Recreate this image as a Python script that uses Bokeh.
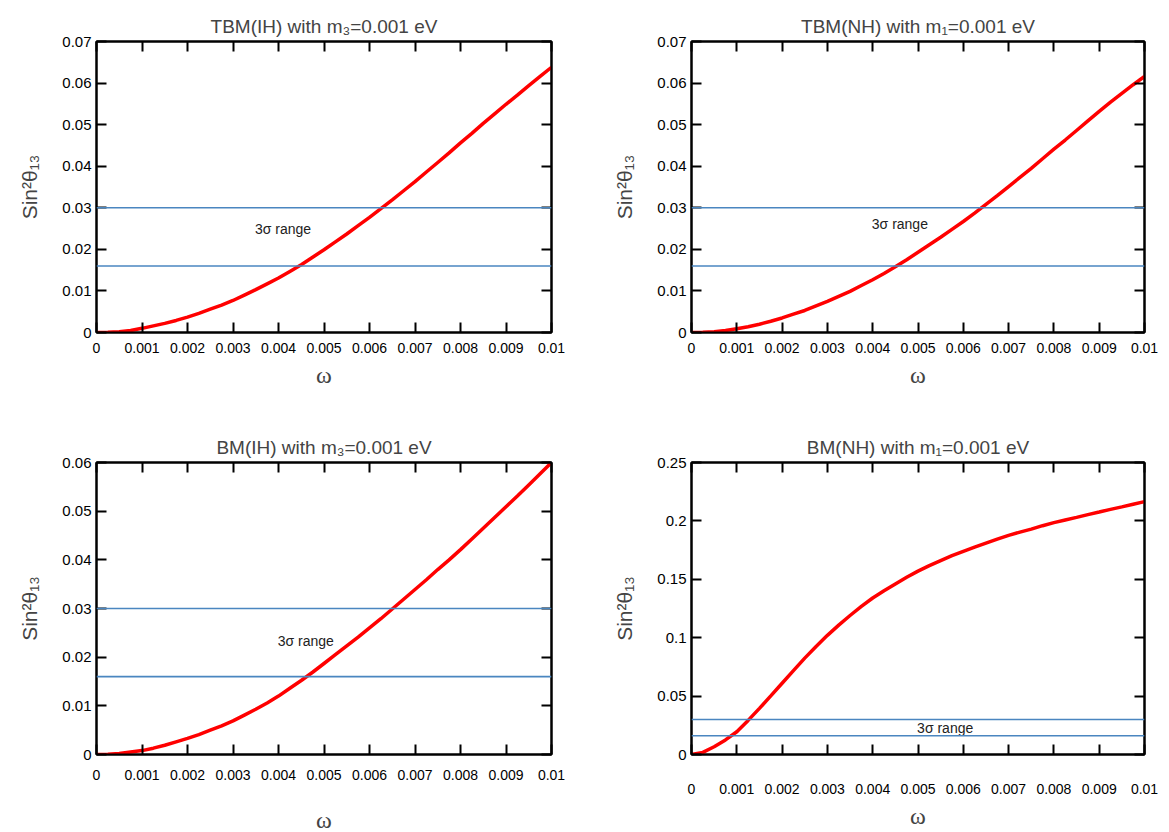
from bokeh.plotting import figure
from bokeh.models import (Range1d, LinearAxis, FixedTicker, NumeralTickFormatter, Span,
                          CustomLabelingPolicy)
from bokeh.layouts import gridplot
from bokeh.embed import file_html
from bokeh.resources import INLINE
from bokeh.core.properties import value

# ---------------- data ----------------
omega = [0.0, 0.00025, 0.0005, 0.00075, 0.001, 0.00125, 0.0015, 0.00175, 0.002, 0.00225,
         0.0025, 0.00275, 0.003, 0.00325, 0.0035, 0.00375, 0.004, 0.00425, 0.0045, 0.00475,
         0.005, 0.00525, 0.0055, 0.00575, 0.006, 0.00625, 0.0065, 0.00675, 0.007, 0.00725,
         0.0075, 0.00775, 0.008, 0.00825, 0.0085, 0.00875, 0.009, 0.00925, 0.0095, 0.00975, 0.01]

tbm_ih = [0.0, 0.00005, 0.0002, 0.0005, 0.001, 0.0016, 0.0022, 0.0029, 0.0037, 0.0046,
          0.0056, 0.0066, 0.0077, 0.009, 0.0103, 0.0117, 0.0131, 0.0147, 0.0163, 0.0181,
          0.0199, 0.0218, 0.0237, 0.0257, 0.0277, 0.0298, 0.0319, 0.0341, 0.0363, 0.0386,
          0.0409, 0.0432, 0.0456, 0.0479, 0.0503, 0.0526, 0.0549, 0.0571, 0.0594, 0.0616, 0.0638]
tbm_nh = [0.0, 0.00005, 0.0002, 0.0005, 0.0009, 0.0014, 0.002, 0.0027, 0.0035, 0.0044,
          0.0053, 0.0064, 0.0075, 0.0087, 0.0099, 0.0113, 0.0127, 0.0142, 0.0158, 0.0175,
          0.0193, 0.0211, 0.0229, 0.0248, 0.0267, 0.0287, 0.0308, 0.0329, 0.0351, 0.0373,
          0.0395, 0.0418, 0.0441, 0.0463, 0.0486, 0.0509, 0.0532, 0.0554, 0.0575, 0.0596, 0.0616]
bm_ih = [0.0, 0.00005, 0.0002, 0.0005, 0.0008, 0.0013, 0.0019, 0.0026, 0.0033, 0.0041,
         0.005, 0.0059, 0.0069, 0.0081, 0.0093, 0.0106, 0.012, 0.0136, 0.0152, 0.0169,
         0.0187, 0.0205, 0.0223, 0.0241, 0.026, 0.0279, 0.0299, 0.0319, 0.0339, 0.0359,
         0.038, 0.04, 0.0421, 0.0443, 0.0465, 0.0487, 0.0509, 0.0531, 0.0554, 0.0577, 0.06]
bm_nh = [0.0, 0.0018, 0.0066, 0.0125, 0.0195, 0.0292, 0.0395, 0.0502, 0.061, 0.0718,
         0.0825, 0.0925, 0.102, 0.1108, 0.119, 0.1268, 0.134, 0.1402, 0.146, 0.1517,
         0.157, 0.1617, 0.166, 0.1702, 0.174, 0.1776, 0.181, 0.1844, 0.1876, 0.1904,
         0.193, 0.1959, 0.1985, 0.2008, 0.203, 0.2054, 0.2076, 0.2099, 0.212, 0.2143, 0.2165]

sigma_low = 0.016
sigma_high = 0.03

x_ticks = [0.0, 0.001, 0.002, 0.003, 0.004, 0.005, 0.006, 0.007, 0.008, 0.009, 0.01]
y_ticks_07 = [0.0, 0.01, 0.02, 0.03, 0.04, 0.05, 0.06, 0.07]
y_ticks_06 = [0.0, 0.01, 0.02, 0.03, 0.04, 0.05, 0.06]
y_ticks_25 = [0.0, 0.05, 0.1, 0.15, 0.2, 0.25]

titles = ["TBM(IH) with m\u2083=0.001 eV", "TBM(NH) with m\u2081=0.001 eV",
          "BM(IH) with m\u2083=0.001 eV", "BM(NH) with m\u2081=0.001 eV"]
series = [tbm_ih, tbm_nh, bm_ih, bm_nh]
y_max = [0.07, 0.07, 0.06, 0.25]
y_ticks = [y_ticks_07, y_ticks_07, y_ticks_06, y_ticks_25]
band_label = "3\u03c3 range"
band_label_pos = [(0.0041, 0.025), (0.0046, 0.026), (0.0046, 0.0234), (0.0056, 0.0223)]
y_label = "Sin\u00b2\u03b8\u2081\u2083"
x_label = "\u03c9"

FONT = "Liberation Sans"

HIDE_ALL = CustomLabelingPolicy(code="return []")


def style_axis(ax, show_labels=True, tick_font="13px", standoff=8):
    ax.axis_line_color = "black"
    ax.axis_line_width = 2
    ax.major_tick_in = 10
    ax.major_tick_out = 0
    ax.major_tick_line_color = "black"
    ax.major_tick_line_width = 2
    ax.minor_tick_line_color = None
    ax.major_label_text_font = FONT
    ax.major_label_text_color = "black"
    if show_labels:
        ax.major_label_text_font_size = tick_font
        ax.major_label_standoff = standoff
    else:
        ax.major_label_text_font_size = "0px"
        ax.major_label_standoff = 0
        ax.major_label_policy = HIDE_ALL


def make_panel(i, frame_w, frame_h, b_left, b_right, b_top, b_bottom, xtick_standoff, xlabel_gap):
    p = figure(frame_width=frame_w, frame_height=frame_h,
               min_border_left=b_left, min_border_right=b_right,
               min_border_top=b_top, min_border_bottom=b_bottom,
               x_range=Range1d(0, 0.01), y_range=Range1d(0, y_max[i]),
               output_backend="svg", toolbar_location=None,
               background_fill_color="white", border_fill_color="white")
    p.title.text = titles[i]
    p.title.align = "center"
    p.title.text_font = FONT
    p.title.text_font_size = "19px"
    p.title.text_font_style = "normal"
    p.title.standoff = 9
    p.outline_line_color = "black"
    p.outline_line_width = 2
    p.grid.grid_line_color = None

    fmt = NumeralTickFormatter(format="0.[000]")

    xa = p.xaxis[0]
    xa.ticker = FixedTicker(ticks=x_ticks)
    xa.formatter = fmt
    style_axis(xa, True, "14px", xtick_standoff)
    xa.axis_label = x_label
    xa.axis_label_text_font = "Liberation Serif"
    xa.axis_label_text_font_size = "24px"
    xa.axis_label_text_font_style = "normal"
    xa.axis_label_standoff = xlabel_gap

    ya = p.yaxis[0]
    ya.ticker = FixedTicker(ticks=y_ticks[i])
    ya.formatter = fmt
    style_axis(ya, True, "15px", 5)
    ya.axis_label = y_label
    ya.axis_label_text_font = FONT
    ya.axis_label_text_font_size = "21px"
    ya.axis_label_text_font_style = "normal"
    ya.axis_label_standoff = 18

    top = LinearAxis(ticker=FixedTicker(ticks=x_ticks))
    style_axis(top, False)
    p.add_layout(top, "above")
    right = LinearAxis(ticker=FixedTicker(ticks=y_ticks[i]))
    style_axis(right, False)
    p.add_layout(right, "right")

    for lvl in (sigma_high, sigma_low):
        p.add_layout(Span(location=lvl, dimension="width",
                          line_color="#4a86c0", line_width=1.6))

    p.line(omega, series[i], line_color="#ff0000", line_width=3.5)

    lx, ly = band_label_pos[i]
    p.text(x=[lx], y=[ly], text=[band_label], text_align="center",
           text_baseline="middle", text_font=value(FONT),
           text_font_size="14px", text_color="#222222")
    return p


p1 = make_panel(0, 455, 291, 96, 51, 41, 90, 10, 6)
p2 = make_panel(1, 453, 291, 89, 14, 41, 90, 10, 6)
p3 = make_panel(2, 455, 292, 96, 51, 40, 76, 15, 24)
p4 = make_panel(3, 453, 292, 89, 14, 40, 76, 29, 6)

grid = gridplot([[p1, p2], [p3, p4]], toolbar_location=None)

open("out.html", "w").write(file_html(grid, INLINE))
